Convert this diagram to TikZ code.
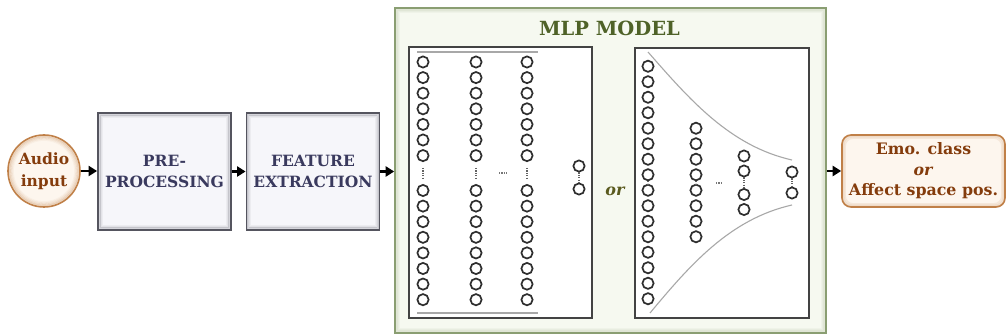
\documentclass[tikz,border=0pt]{standalone}
\usepackage{fontspec}
\setmainfont{DejaVu Serif}
\usetikzlibrary{arrows.meta}
\definecolor{brownT}{HTML}{843C0C}
\definecolor{brownB}{HTML}{C08048}
\definecolor{creamF}{HTML}{FDF6EE}
\definecolor{grayB}{HTML}{55555F}
\definecolor{grayF}{HTML}{F6F6FA}
\definecolor{navyT}{HTML}{3A3A5E}
\definecolor{greenB}{HTML}{8A9E72}
\definecolor{greenF}{HTML}{F6F9F0}
\definecolor{oliveT}{HTML}{4F6228}
\definecolor{orT}{HTML}{5A5A1E}
\definecolor{neuC}{HTML}{2E2E2E}
\definecolor{curveC}{HTML}{A8A8A8}
\newcommand{\glowrect}[2]{%
  \foreach \g/\o in {1.6/0.30,2.8/0.20,4.0/0.12,5.2/0.06}{%
    \draw[#2, line width=1.3pt, opacity=\o] ([shift={(\g,\g)}]#1.north west) rectangle ([shift={(-\g,-\g)}]#1.south east);}}
\newcommand{\glowcirc}[3]{%
  \foreach \g/\o in {1.6/0.30,2.8/0.20,4.0/0.12,5.2/0.06}{%
    \draw[#2, line width=1.3pt, opacity=\o] (#1.center) circle ({#3-\g});}}
\newcommand{\glowround}[2]{%
  \foreach \g/\o in {1.6/0.30,2.8/0.20,4.0/0.12}{%
    \draw[#2, line width=1.3pt, opacity=\o, rounded corners=8pt] ([shift={(\g,\g)}]#1.north west) rectangle ([shift={(-\g,-\g)}]#1.south east);}}
\tikzset{
  lbl/.style={font=\bfseries\fontsize{15.5}{21.5}\selectfont, align=center},
  audio/.style={circle, draw=brownB, line width=1.6pt, fill=creamF, minimum size=72pt, inner sep=0pt, text=brownT, lbl},
  proc/.style={rectangle, draw=grayB, line width=1.8pt, fill=grayF, minimum width=133pt, minimum height=117pt, inner sep=0pt, text=navyT, lbl},
  mlpbox/.style={rectangle, draw=greenB, line width=1.6pt, fill=greenF, minimum width=431pt, minimum height=325pt, inner sep=0pt},
  netbox/.style={rectangle, draw=neuC!90, line width=1.4pt, fill=white, inner sep=0pt},
  outbox/.style={rectangle, rounded corners=9pt, draw=brownB, line width=1.6pt, fill=creamF, minimum width=163pt, minimum height=72pt, inner sep=0pt, text=brownT, font=\bfseries\fontsize{15.8}{20.5}\selectfont, align=center},
  neu/.style={circle, draw=neuC, line width=1.7pt, minimum size=11.2pt, inner sep=0pt},
  gap/.style={draw=neuC!75, line width=1.2pt, dash pattern=on 1.2pt off 1.2pt},
  hdots/.style={draw=neuC!65, line width=1.2pt, dash pattern=on 1.2pt off 1.2pt},
  arr/.style={-{Triangle[length=8.5pt,width=10pt]}, line width=2.8pt, black},
  bound/.style={draw=curveC, line width=1.1pt}
}
\begin{document}
\begin{tikzpicture}[x=1pt,y=-1pt]
\useasboundingbox (0,0) rectangle (1006,336);
% left chain
\node[audio] (audio) at (44,171) {Audio\\input};
\glowcirc{audio}{brownB}{36pt}
\node[proc] (pre) at (164.5,171.5) {PRE-\\PROCESSING};
\glowrect{pre}{grayB}
\node[proc] (feat) at (313,171.5) {FEATURE\\EXTRACTION};
\glowrect{feat}{grayB}
% MLP container
\node[mlpbox] (mlp) at (610.5,170.5) {};
\glowrect{mlp}{greenB}
\node[font=\bfseries\fontsize{19.5}{22}\selectfont, text=oliveT] (title) at (609.5,28) {MLP MODEL};
\node[netbox, minimum width=183pt, minimum height=271pt] (netA) at (500.5,182.5) {};
\node[netbox, minimum width=174pt, minimum height=270pt] (netB) at (722,183) {};
\node[font=\bfseries\itshape\fontsize{16}{18}\selectfont, text=orT] (or) at (615,191) {or};
% output
\node[outbox] (out) at (923.5,171) {Emo. class\\\textit{or}\\Affect space pos.};
\glowround{out}{brownB}
% connectors
\draw[arr] (audio.east) -- (pre.west |- audio.east);
\draw[arr] (pre.east) -- (feat.west);
\draw[arr] (feat.east) -- (feat.east -| mlp.west);
\draw[arr] (mlp.east |- out.west) -- (out.west);
% network A
\coordinate (a1) at (417,52); \coordinate (a2) at (538,52);
\coordinate (a3) at (417,313); \coordinate (a4) at (538,313);
\draw[bound, line width=1.4pt] (a1) -- (a2);
\draw[bound, line width=1.4pt] (a3) -- (a4);
\foreach \x in {423,476,527}{
  \foreach \i in {0,...,6}{ \node[neu] (na-\x-t\i) at (\x,{62+15.6*\i}) {}; }
  \foreach \i in {0,...,7}{ \node[neu] (na-\x-b\i) at (\x,{190.5+15.6*\i}) {}; }
  \draw[gap] (\x,168) -- (\x,178);
}
\draw[hdots] (499,173) -- (507,173);
\node[neu] (naout1) at (579,166) {};
\node[neu] (naout2) at (579,189) {};
\draw[gap] (naout1.south) -- (naout2.north);
% network B
\draw[bound] (648,52) .. controls (690,100) and (730,146) .. (792,160);
\draw[bound] (650,313) .. controls (690,265) and (730,219) .. (792,205);
\foreach \k in {0,...,7}{
  \node[neu] (nb1u\k) at (648,{182.5-7.75-15.5*\k}) {};
  \node[neu] (nb1d\k) at (648,{182.5+7.75+15.5*\k}) {};
}
\draw[gap] (nb1u0.south) -- (nb1d0.north);
\foreach \k in {0,...,3}{
  \node[neu] (nb2u\k) at (696,{182.5-7.75-15.5*\k}) {};
  \node[neu] (nb2d\k) at (696,{182.5+7.75+15.5*\k}) {};
}
\draw[gap] (nb2u0.south) -- (nb2d0.north);
\draw[hdots] (716,183) -- (722,183);
\node[neu] (nb3a) at (744,156) {};
\node[neu] (nb3b) at (744,171) {};
\node[neu] (nb3c) at (744,194.5) {};
\node[neu] (nb3d) at (744,209.5) {};
\draw[gap] (nb3b.south) -- (nb3c.north);
\node[neu] (nb4a) at (792,172) {};
\node[neu] (nb4b) at (792,193) {};
\draw[gap] (nb4a.south) -- (nb4b.north);
\end{tikzpicture}
\end{document}
